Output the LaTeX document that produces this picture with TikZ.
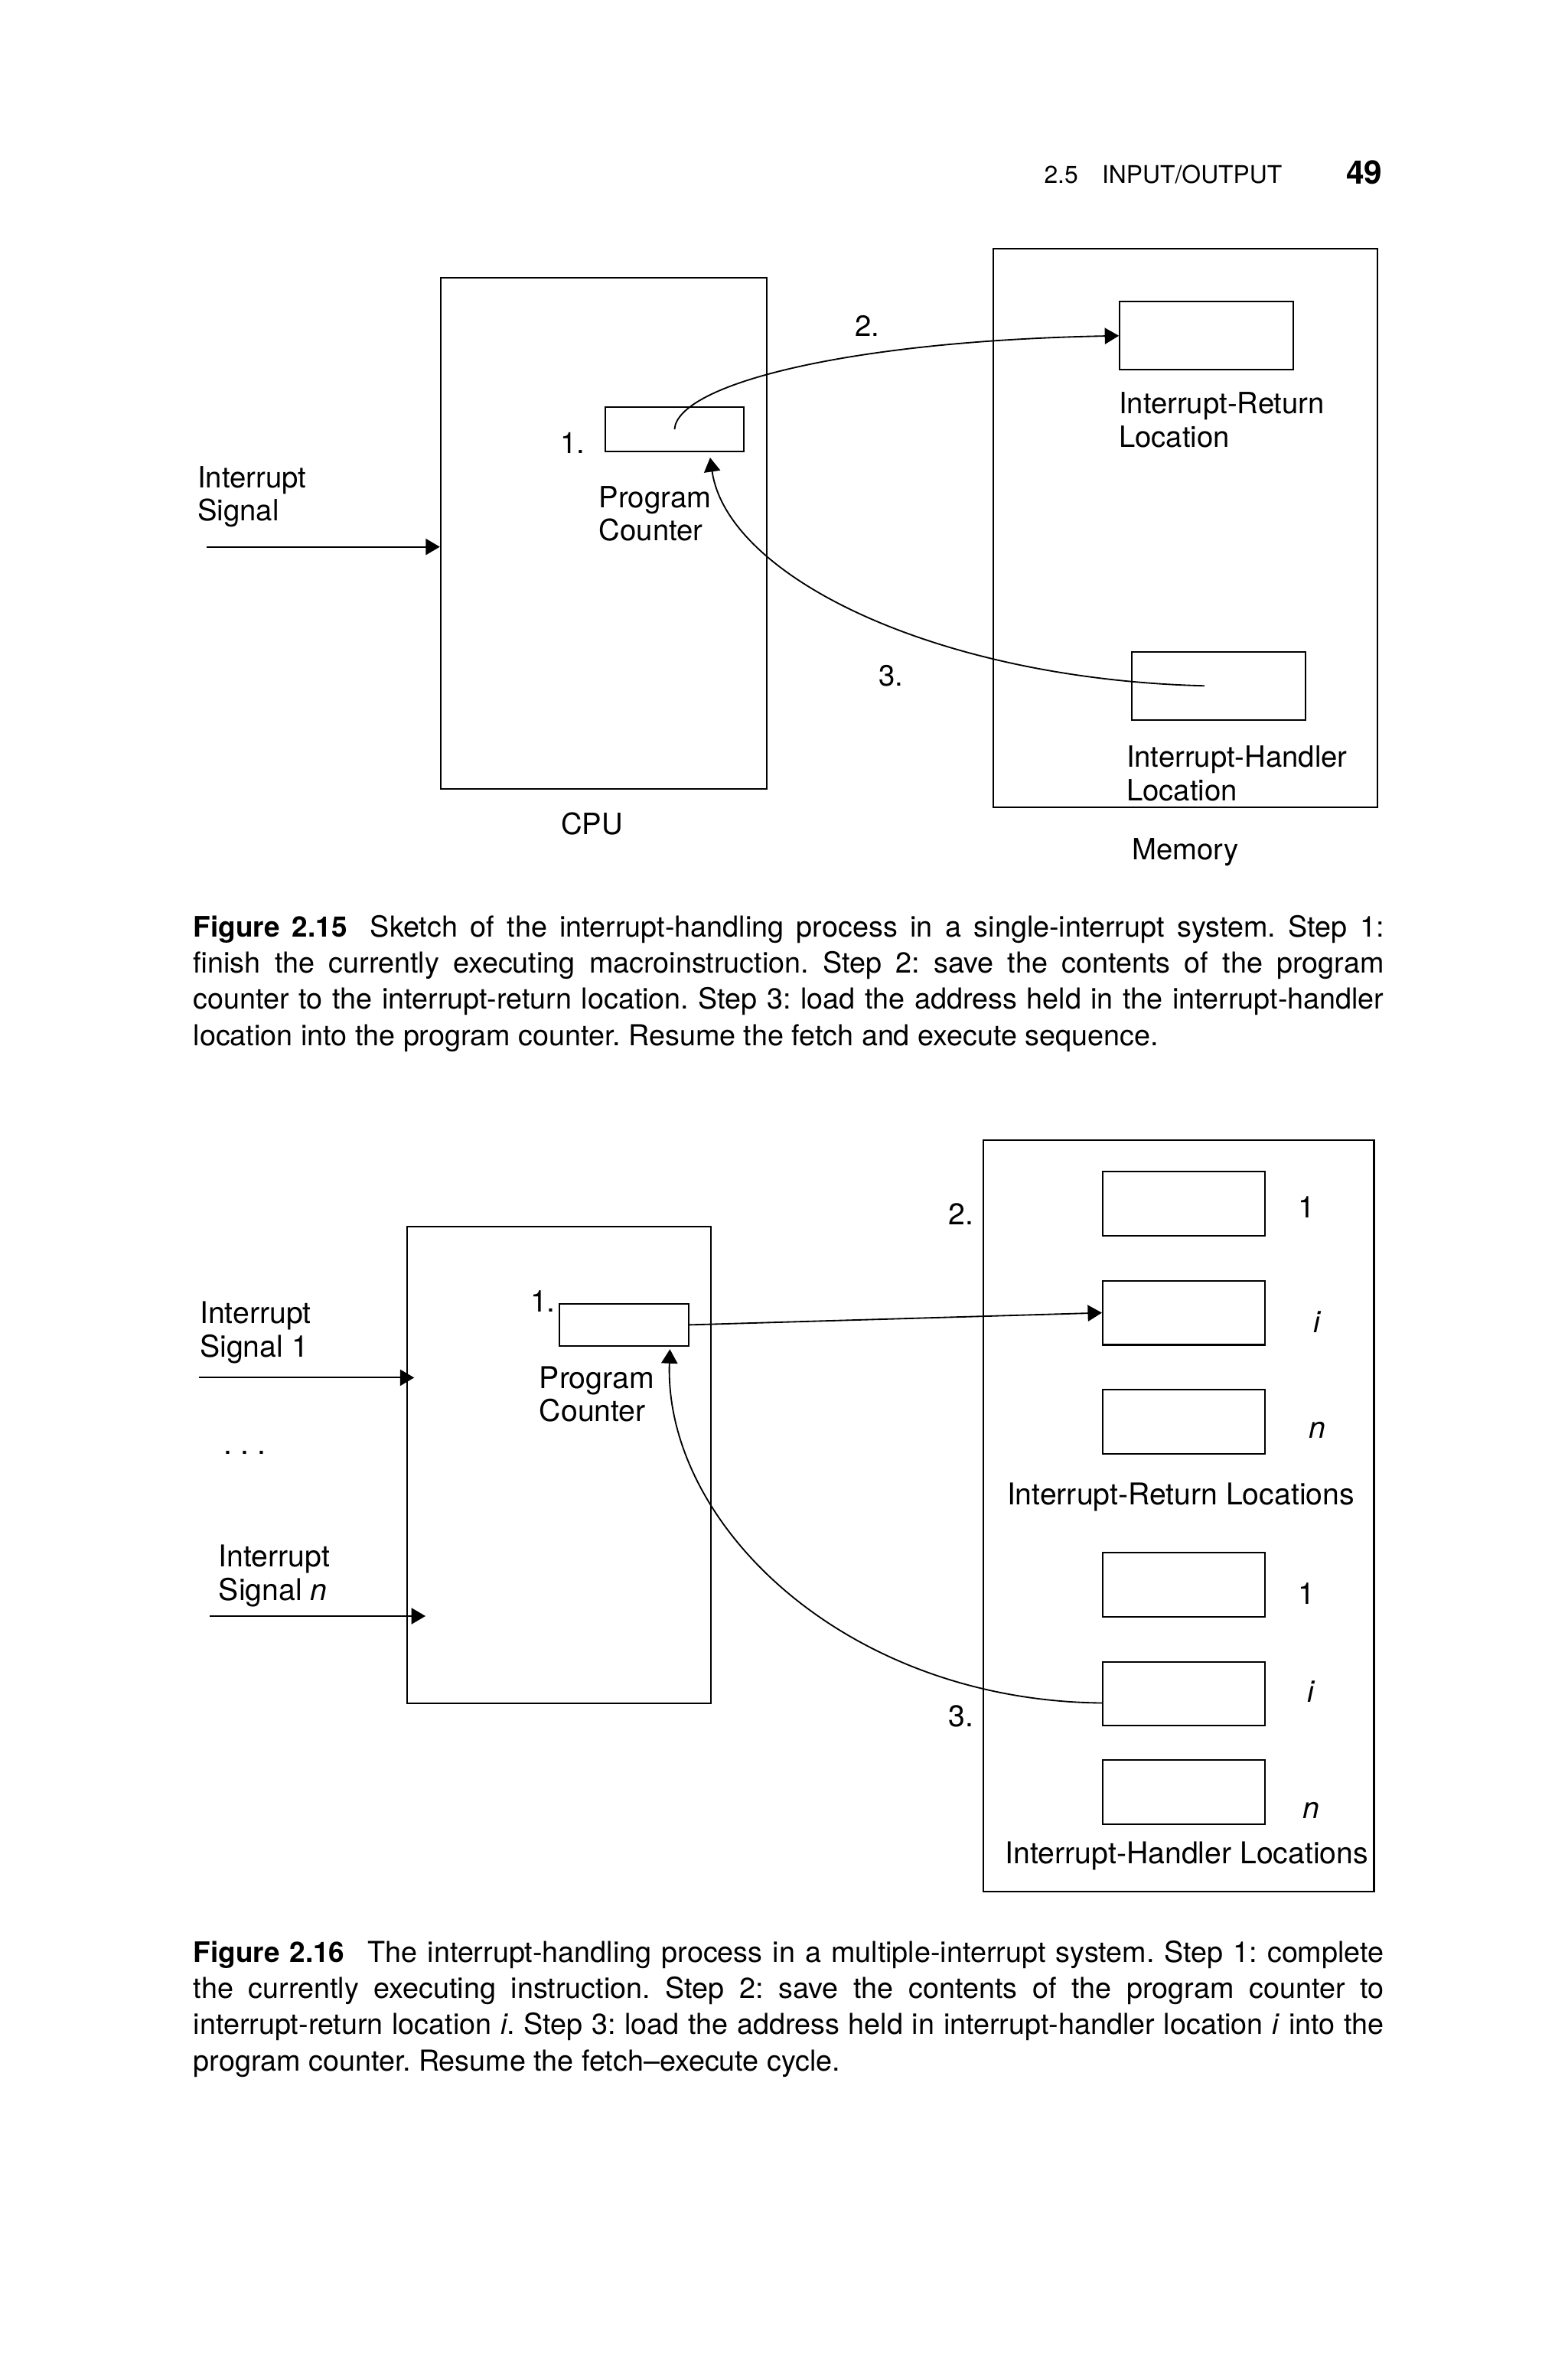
\documentclass[tikz,border=0pt]{standalone}
\usepackage{fontspec}
\setmainfont{TeX Gyre Heros}
\usepackage{tikz}
\usetikzlibrary{arrows.meta,positioning,calc}

\newcommand{\pxu}{0.4274pt}
\frenchspacing

\begin{document}
\begin{tikzpicture}[x=0.4274pt, y=-0.4274pt,
    blk/.style 2 args={draw, line width=0.45pt, inner sep=0pt,
      minimum width=#1*\pxu, minimum height=#2*\pxu},
    lbl/.style={inner sep=0pt, align=left, font=\fontsize{8.3}{9.4}\selectfont},
    lblb/.style={lbl, font=\fontsize{8.5}{9.5}\selectfont},
    capt/.style={inner sep=0pt, text width=337.2pt, align=justify,
      font=\fontsize{8.18}{10.27}\selectfont},
    sig/.style={line width=0.4pt, -{Triangle[length=4pt,width=4.6pt]}}]
    \useasboundingbox (0,0) rectangle (1039,1568);

    % running head
    \node[anchor=base west, inner sep=0pt, font=\fontsize{6.9}{8}\selectfont] (runhead) at (691.5,121.3) {2.5\hspace{6.8pt}INPUT/OUTPUT};
    \node[anchor=base east, inner sep=0pt, font=\fontsize{9.2}{11}\selectfont\bfseries] (pageno) at (916.5,121.8) {49};

    % Figure 2.15: single interrupt
    \node[blk={216}{339}] (cpu) at (400,353.5) {};
    \node[blk={92}{29}] (pc) at (447,284.5) {};
    \node[blk={255}{370}] (mem) at (785.5,350) {};
    \node[blk={115}{45}] (ret) at (799.5,222.5) {};
    \node[blk={115}{45}] (hnd) at (807.5,454.5) {};

    \node[lbl, anchor=north west] (sigl) at (130.5,308.6) {Interrupt\\Signal};
    \node[lbl, anchor=north west] (s1) at (371,286) {1.};
    \node[lbl, anchor=north west] (pcl) at (396.5,321.7) {Program\\Counter};
    \node[lbl, anchor=north west] (s2) at (566,208.5) {2.};
    \node[lbl, anchor=north west] (s3) at (582,440.4) {3.};
    \node[lbl, anchor=north west] (retl) at (741,259.6) {Interrupt-Return\\Location};
    \node[lbl, anchor=north west] (hndl) at (746,494) {Interrupt-Handler\\Location};
    \node[lbl, anchor=north] (cpul) at (392.3,537.8) {CPU};
    \node[lbl, anchor=north] (meml) at (785.5,554.9) {Memory};

    \coordinate (sigin) at (137,362.4);
    \draw[sig] (sigin) -- (sigin -| cpu.west);
    \draw[sig] (pc.center) .. controls (449,255) and (560,226) .. (ret.west);
    \draw[sig] ([xshift=-4pt]hnd.center) .. controls (620,450) and (482,382) .. ([xshift=-9.8pt,yshift=-1.6pt]pc.south east);

    \node[capt, anchor=north west] (cap1) at (127.7,606) {{\fontsize{8}{10}\selectfont\textbf{Figure 2.15}}\hspace{0.8em}Sketch of the interrupt-handling process in a single-interrupt system. Step 1:\linebreak finish the currently executing macroinstruction. Step 2: save the contents of the program\linebreak counter to the interrupt-return location. Step 3: load the address held in the interrupt-handler\linebreak location into the program counter. Resume the fetch and execute sequence.};

    % Figure 2.16: multiple interrupts
    \node[blk={201}{316}] (cpu2) at (370.5,971) {};
    \node[blk={86}{28}] (pc2) at (413.5,878) {};
    \node[blk={259}{498}] (mem2) at (781,1004.5) {};
    \node[blk={107.5}{42.5}] (r1) at (784.5,797.8) {};
    \node[blk={107.5}{42.5}] (ri) at (784.5,870) {};
    \node[blk={107.5}{42.5}] (rn) at (784.5,942.3) {};
    \node[blk={107.5}{42.5}] (h1) at (784.5,1050.2) {};
    \node[blk={107.5}{42.5}] (hi) at (784.5,1122.5) {};
    \node[blk={107.5}{42.5}] (hn) at (784.5,1187.8) {};

    \node[lblb] (r1l) at (866,800) {1};
    \node[lblb] (ril) at (873,876) {\textit{i}};
    \node[lblb] (rnl) at (873,948) {\textit{n}};
    \node[lblb] (h1l) at (866,1056) {1};
    \node[lblb] (hil) at (869,1121) {\textit{i}};
    \node[lblb] (hnl) at (869,1200) {\textit{n}};
    \node[lblb, anchor=north] (rlocl) at (782.5,982.5) {Interrupt-Return Locations};
    \node[lblb, anchor=north] (hlocl) at (786.5,1220) {Interrupt-Handler Locations};

    \node[lblb, anchor=north west] (sig1l) at (132,862) {Interrupt\\Signal 1};
    \node[lblb, anchor=base west] (dotsl) at (148,963.7) {. . .};
    \node[lblb, anchor=north west] (signl) at (144.5,1023.5) {Interrupt\\Signal \textit{n}};
    \node[lblb, anchor=north west] (t1) at (351,855) {1.};
    \node[lblb, anchor=north west] (pc2l) at (357,905) {Program\\Counter};
    \node[lblb, anchor=north west] (t2) at (628,797) {2.};
    \node[lblb, anchor=north west] (t3) at (628,1129.7) {3.};

    \coordinate (in1) at (132,913);
    \coordinate (inn) at (139,1071);
    \draw[sig] (in1) -- ($(in1 -| cpu2.west)+(5,0)$);
    \draw[sig] (inn) -- ($(inn -| cpu2.west)+(12.5,0)$);
    \draw[sig] (pc2.east) -- (ri.west);
    \draw[sig] ([yshift=-2.6pt]hi.west) .. controls (560,1127) and (440,1010) .. ([xshift=-5.6pt,yshift=-0.7pt]pc2.south east);

    \node[capt, anchor=north west] (cap2) at (127.7,1285.5) {{\fontsize{8}{10}\selectfont\textbf{Figure 2.16}}\hspace{0.8em}The interrupt-handling process in a multiple-interrupt system. Step 1: complete\linebreak the currently executing instruction. Step 2: save the contents of the program counter to\linebreak interrupt-return location \textit{i}. Step 3: load the address held in interrupt-handler location \textit{i} into the\linebreak program counter. Resume the fetch--execute cycle.};
\end{tikzpicture}
\end{document}
